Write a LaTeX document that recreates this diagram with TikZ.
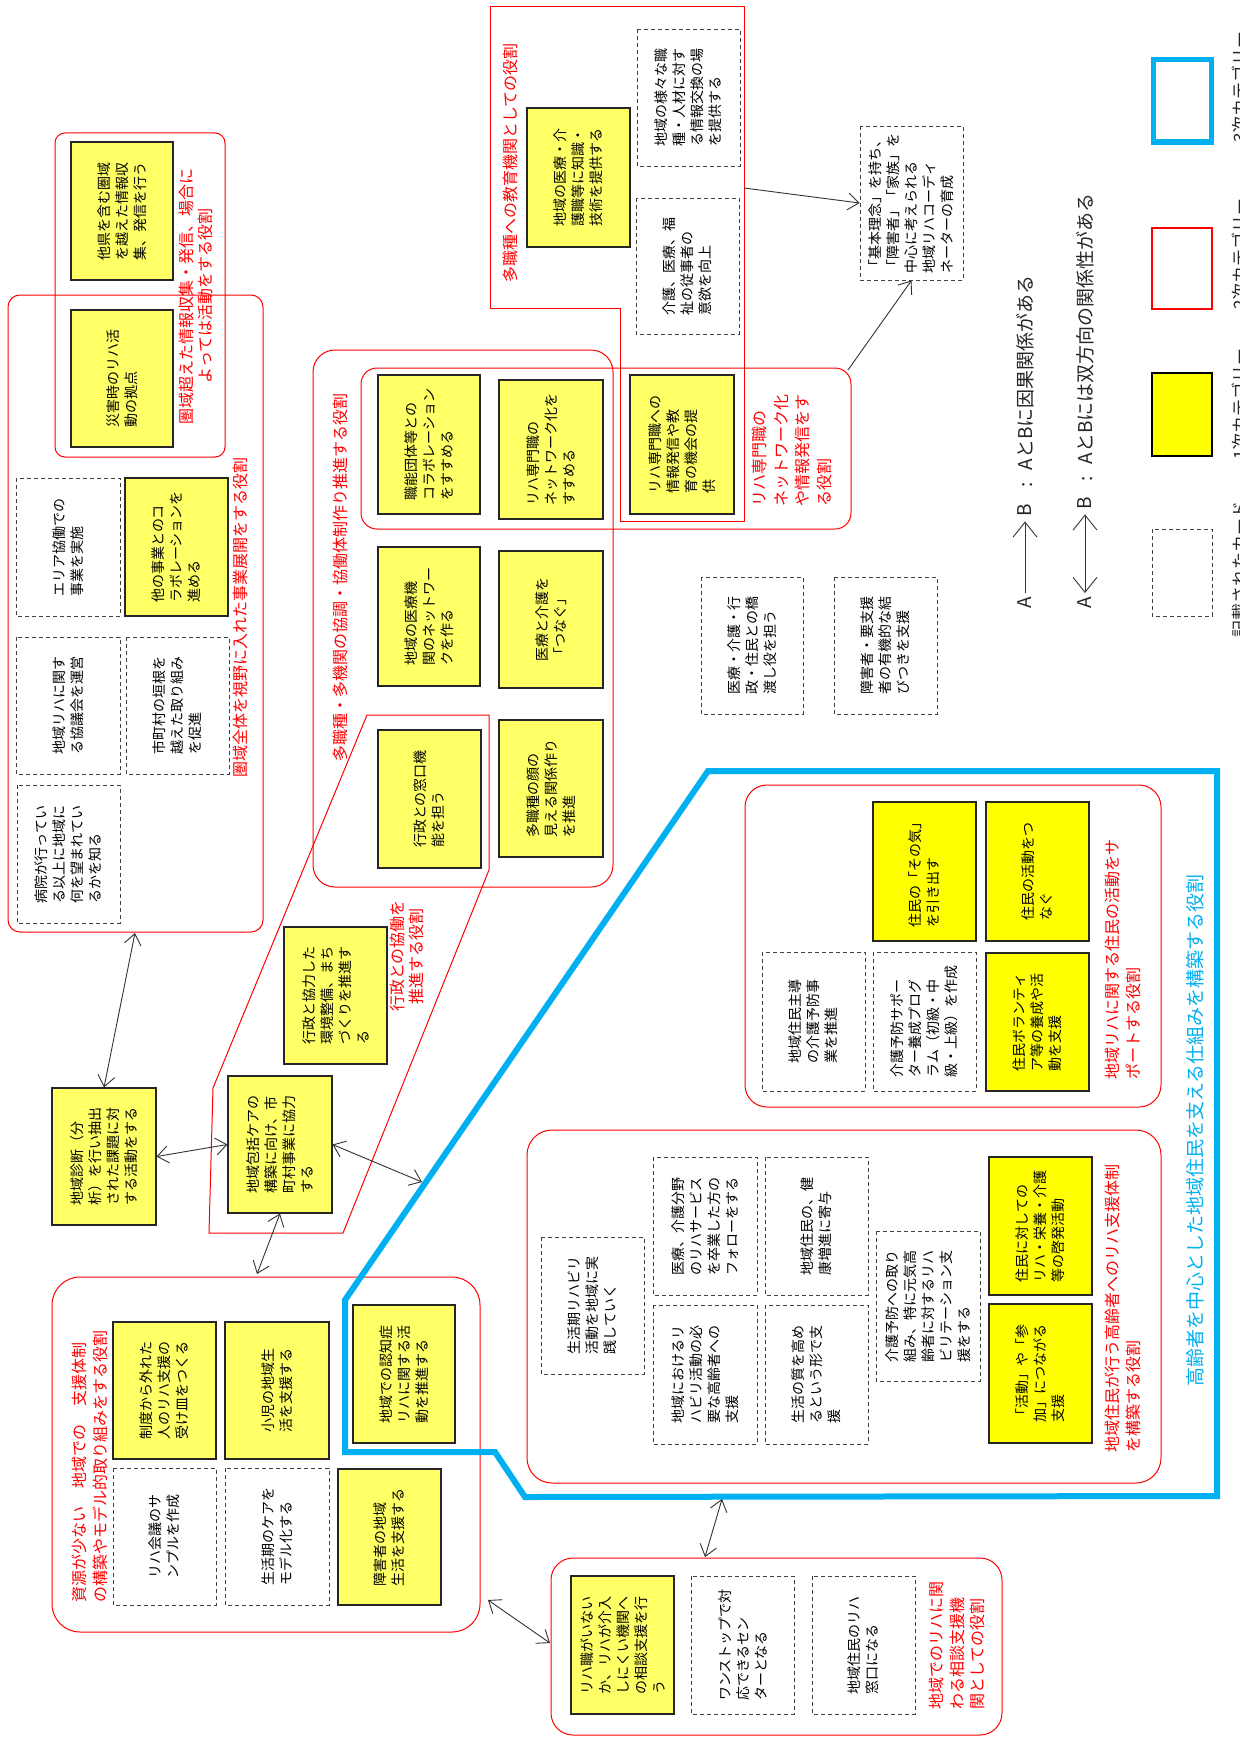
\documentclass[tikz,border=0pt]{standalone}
\usepackage{fontspec}
\setmainfont{Noto Sans CJK JP}
\usetikzlibrary{arrows.meta}
\definecolor{yelA}{RGB}{255,255,102}
\definecolor{yelB}{RGB}{255,255,0}
\definecolor{cyanb}{RGB}{0,176,240}
\newcommand\card[7]{%
  \pgfmathsetmacro\cardw{#6-#4}%
  \pgfmathsetmacro\cardh{#5-#3}%
  \node[#1, minimum width=\cardw pt, minimum height=\cardh pt] (#2) at ({(#3+#5)/2},{(#4+#6)/2}) {#7};}
\tikzset{
  cardbase/.style={rotate=90, align=left, inner sep=1pt, font=\fontsize{14}{18}\selectfont},
  yel/.style={cardbase, draw=black!85, line width=1.1pt, fill=yelA},
  yelb/.style={yel, fill=yelB},
  dbox/.style={cardbase, draw=black!75, line width=0.9pt, dash pattern=on 4pt off 3pt, fill=white},
  lbl/.style={rotate=90, text=red, inner sep=0pt, align=left, font=\fontsize{16}{20.5}\selectfont},
  grp/.style={draw=red, line width=1pt},
  tipb/.tip={Straight Barb[length=11pt,width=17pt]},
  tipc/.tip={Straight Barb[length=15pt,width=24pt]},
  dar/.style={draw=black!80, line width=0.9pt, tipb-tipb},
  sar/.style={draw=black!80, line width=0.9pt, -tipb},
  legt/.style={rotate=90, inner sep=2pt, text=black!85, font=\fontsize{19}{22}\selectfont},
}
\begin{document}
\begin{tikzpicture}[x=1pt,y=-1pt]
\useasboundingbox (0,0) rectangle (1239,1742);
\fill[white] (0,0) rectangle (1239,1742);

% ---------- group outlines ----------
\draw[grp, rounded corners=10] (55,133) rectangle (225,457);
\draw[grp, rounded corners=12] (8,295) rectangle (263,932);
\draw[grp, rounded corners=22] (313,350) rectangle (613,887);
\draw[grp, rounded corners=16] (361,368) rectangle (851,529);
\draw[grp] (490,7) -- (744,7) -- (744,521) -- (620,521) -- (620,308) -- (490,308) -- cycle;
\draw[grp] (367,715) -- (489,715) -- (489,870) -- (343,1233) -- (209,1233) -- (213,1088) -- cycle;
\draw[grp, rounded corners=22] (745,785) rectangle (1161,1107);
\draw[grp, rounded corners=25] (527,1130) rectangle (1161,1483);
\draw[grp, rounded corners=28] (52,1277) rectangle (480,1632);
\draw[grp, rounded corners=22] (551,1558) rectangle (1002,1735);
\draw[cyanb, line width=6pt, line join=miter] (708,771) -- (1217,771) -- (1217,1496) -- (525,1497) -- (495,1452) -- (345,1452) -- (345,1300) -- cycle;

% ---------- top-left group ----------
\card{yel}{tl1}{71}{142}{173}{280}{他県を含む圏域\\を越えた情報収\\集、発信を行う}
\card{yel}{tl2}{71}{310}{173}{447}{災害時のリハ活\\動の拠点}

% ---------- big group ----------
\card{dbox}{bg1}{16}{478}{120}{616}{エリア協働での\\事業を実施}
\card{yel}{bg2}{125}{478}{228}{616}{他の事業とのコ\\ラボレーションを\\進める}
\card{dbox}{bg3}{16}{637}{120}{774}{地域リハに関す\\る協議会を運営}
\card{dbox}{bg4}{126}{637}{229}{774}{市町村の垣根を\\越えた取り組み\\を促進}
\card{dbox}{bg5}{17}{785}{120}{923}{病院が行ってい\\る以上に地域に\\何を望まれてい\\るかを知る}

% ---------- middle group ----------
\card{yel}{m1}{378}{375}{480}{514}{職能団体等との\\コラボレーション\\をすすめる}
\card{yel}{m2}{499}{380}{603}{519}{リハ専門職の\\ネットワーク化を\\すすめる}
\card{yel}{m3}{630}{375}{734}{514}{リハ専門職への\\情報発信や教\\育の機会の提\\供}
\card{yel}{m4}{378}{547}{480}{686}{地域の医療機\\関のネットワー\\クを作る}
\card{yel}{m5}{499}{551}{603}{688}{医療と介護を\\「つなぐ」}
\card{yel}{m6}{378}{730}{481}{868}{行政との窓口機\\能を担う}
\card{yel}{m7}{499}{720}{603}{857}{多職種の顔の\\見える関係作り\\を推進}
\card{dbox}{m8}{701}{577}{803}{714}{医療・介護・行\\政・住民との橋\\渡し役を担う}
\card{dbox}{m9}{834}{577}{937}{714}{障害者・要支援\\者の有機的な結\\びつきを支援}

% ---------- education ----------
\card{yel}{e1}{527}{108}{630}{247}{地域の医療・介\\護職等に知識・\\技術を提供する}
\card{dbox}{e2}{637}{29}{740}{166}{地域の様々な職\\種・人材に対す\\る情報交換の場\\を提供する}
\card{dbox}{e3}{636}{198}{739}{334}{介護、医療、福\\祉の従事者の\\意欲を向上}
\card{dbox}{kihon}{860}{126}{963}{280}{「基本理念」を持ち、\\「障害者」「家族」を\\中心に考えられる\\地域リハコーディ\\ネーターの育成}

% ---------- government ----------
\card{yel}{g1}{284}{927}{387}{1064}{行政と協力した\\環境整備、まち\\づくりを推進す\\る}
\card{yel}{hokatsu}{228}{1076}{332}{1213}{地域包括ケアの\\構築に向け、市\\町村事業に協力\\する}
\card{yel}{diag}{52}{1088}{156}{1225}{地域診断（分\\析）を行い抽出\\された課題に対\\する活動をする}

% ---------- residents ----------
\card{yelb}{r1}{873}{802}{976}{941}{住民の「その気」\\を引き出す}
\card{yelb}{r2}{986}{802}{1089}{941}{住民の活動をつ\\なぐ}
\card{dbox}{r3}{762}{952}{865}{1091}{地域住民主導\\の介護予防事\\業を推進}
\card{dbox}{r4}{873}{952}{976}{1091}{介護予防サポー\\ター養成プログ\\ラム（初級・中\\級・上級）を作成}
\card{yelb}{r5}{986}{953}{1089}{1091}{住民ボランティ\\ア等の養成や活\\動を支援}

% ---------- elderly support ----------
\card{dbox}{s1}{541}{1237}{644}{1374}{生活期リハビリ\\活動を地域に実\\践していく}
\card{dbox}{s2}{653}{1157}{757}{1295}{医療、介護分野\\のリハサービス\\を卒業した方の\\フォローをする}
\card{dbox}{s3}{765}{1157}{868}{1295}{地域住民の、健\\康増進に寄与}
\card{dbox}{s4}{653}{1305}{757}{1444}{地域におけるリ\\ハビリ活動の必\\要な高齢者への\\支援}
\card{dbox}{s5}{765}{1305}{868}{1444}{生活の質を高め\\るという形で支\\援}
\card{dbox}{s6}{876}{1231}{980}{1381}{介護予防への取り\\組み、特に元気高\\齢者に対するリハ\\ビリテーション支\\援をする}
\card{yelb}{s7}{989}{1157}{1092}{1295}{住民に対しての\\リハ・栄養・介護\\等の啓発活動}
\card{yelb}{s8}{989}{1304}{1092}{1443}{「活動」や「参\\加」につながる\\支援}

% ---------- scarce resources ----------
\card{yel}{b1}{113}{1322}{216}{1459}{制度から外れた\\人のリハ支援の\\受け皿をつくる}
\card{yel}{b2}{225}{1322}{329}{1459}{小児の地域生\\活を支援する}
\card{dbox}{b3}{113}{1468}{216}{1605}{リハ会議のサ\\ンプルを作成}
\card{dbox}{b4}{225}{1468}{329}{1605}{生活期のケアを\\モデル化する}
\card{yel}{b5}{338}{1469}{441}{1605}{障害者の地域\\生活を支援する}
\card{yel}{b6}{353}{1305}{455}{1443}{地域での認知症\\リハに関する活\\動を推進する}

% ---------- consultation ----------
\card{yel}{c1}{571}{1576}{674}{1714}{リハ職がいない\\か、リハが介入\\しにくい機関へ\\の相談支援を行\\う}
\card{dbox}{c2}{691}{1576}{794}{1714}{ワンストップで対\\応できるセン\\ターとなる}
\card{dbox}{c3}{812}{1576}{915}{1714}{地域住民のリハ\\窓口になる}

% ---------- labels ----------
\node[lbl, align=center, font=\fontsize{16}{18.5}\selectfont] (Ltl) at (196,296) {圏域超えた情報収集・発信、場合に\\よっては活動をする役割};
\node[lbl, anchor=west] (Lbig) at (240,778) {圏域全体を視野に入れた事業展開をする役割};
\node[lbl, anchor=west] (Lmid) at (340,762) {多職種・多機関の協調・協働体制作り推進する役割};
\node[lbl, anchor=west] (Ledu) at (510,283) {多職種への教育機関としての役割};
\node[lbl, anchor=north west, font=\fontsize{16}{21.5}\selectfont] (Lnet) at (752,507) {リハ専門職の\\ネットワーク化\\や情報発信をす\\る役割};
\node[lbl, align=center, font=\fontsize{16}{18.5}\selectfont] (Lgov) at (407,956) {行政との協働を\\推進する役割};
\node[lbl, anchor=north west] (Lres) at (1105,1080) {地域リハに関する住民の活動をサ\\ポートする役割};
\node[lbl, anchor=north west] (Leld) at (1105,1453) {地域住民が行う高齢者へのリハ支援体制\\を構築する役割};
\node[lbl, anchor=north west] (Lsrc) at (72,1603) {資源が少ない\hspace{18pt}地域での\hspace{18pt}支援体制\\の構築やモデル的取り組みをする役割};
\node[lbl, anchor=north west] (Lcon) at (929,1710) {地域でのリハに関\\わる相談支援機\\関としての役割};
\node[lbl, anchor=west, text=cyanb, font=\fontsize{19}{22}\selectfont] (Lblue) at (1195,1387) {高齢者を中心とした地域住民を支える仕組みを構築する役割};

% ---------- connectors ----------
\coordinate (p1) at (135,933);
\coordinate (p3) at (422,1182);
\coordinate (p4) at (257,1274);
\coordinate (p5a) at (488,1600);
\coordinate (p5b) at (550,1643);
\coordinate (p6a) at (705,1557);
\coordinate (p6b) at (722,1499);
\coordinate (p7) at (744,188);
\coordinate (p8) at (848,370);
\draw[dar] (diag.east) -- (p1);
\draw[dar] (diag.south) -- (hokatsu.north);
\draw[dar] (hokatsu.south) -- (p3);
\draw[dar] (hokatsu.west) -- (p4);
\draw[dar] (p5a) -- (p5b);
\draw[dar] (p6a) -- (p6b);
\draw[sar] (p7) -- (kihon.north);
\draw[sar] (p8) -- (kihon.west);

% ---------- legend ----------
\node[legt] (la1) at (1025,603) {A};
\node[legt] (lb1) at (1025,510) {B};
\draw[draw=black!80, line width=0.9pt, -tipc, shorten <=2pt, shorten >=3pt] (la1) -- (lb1);
\node[legt, anchor=west] (lt1) at (1025,490) {:\hspace{12pt}AとBに因果関係がある};
\node[legt] (la2) at (1085,603) {A};
\node[legt] (lb2) at (1085,503) {B};
\draw[draw=black!80, line width=0.9pt, tipc-tipc, shorten <=2pt, shorten >=3pt] (la2) -- (lb2);
\node[legt, anchor=west] (lt2) at (1085,484) {:\hspace{12pt}AとBには双方向の関係性がある};

\card{rotate=90,draw=black,line width=1.2pt,fill=yelB}{k1}{1152}{373}{1212}{456}{}
\card{rotate=90,draw=red,line width=1.5pt}{k2}{1152}{228}{1212}{309}{}
\card{rotate=90,draw=cyanb,line width=5pt}{k3}{1153}{60}{1211}{142}{}
\card{rotate=90,draw=black!75,line width=0.9pt,dash pattern=on 4pt off 3pt}{k4}{1152}{529}{1212}{616}{}
\node[legt, anchor=west, font=\fontsize{17}{20}\selectfont] (kt0) at (1240,640) {記載されたカード};
\node[legt, anchor=west, font=\fontsize{17}{20}\selectfont] (kt1) at (1240,462) {1次カテゴリー};
\node[legt, anchor=west, font=\fontsize{17}{20}\selectfont] (kt2) at (1240,312) {2次カテゴリー};
\node[legt, anchor=west, font=\fontsize{17}{20}\selectfont] (kt3) at (1240,145) {3次カテゴリー};
\end{tikzpicture}
\end{document}
